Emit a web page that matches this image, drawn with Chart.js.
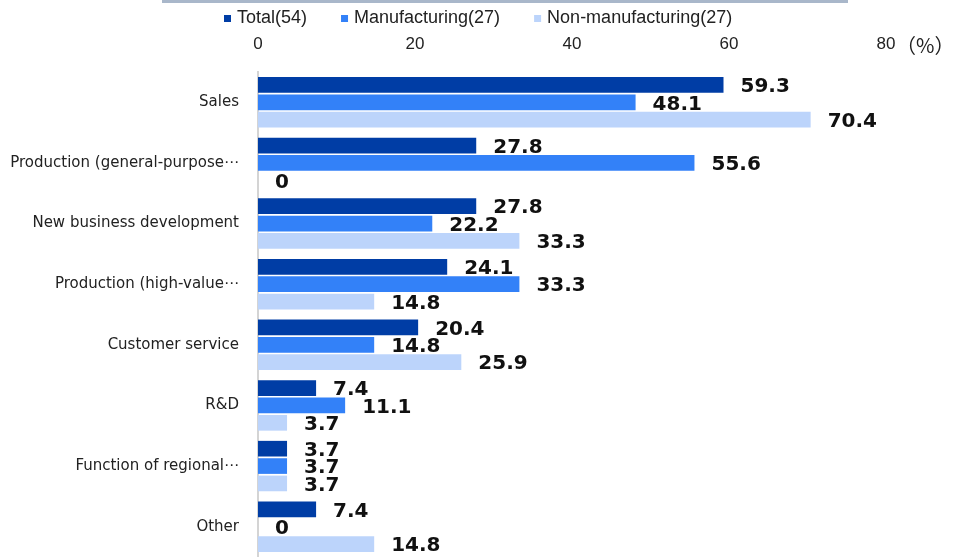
<!DOCTYPE html>
<html>
<head>
<meta charset="utf-8">
<script src="https://cdn.jsdelivr.net/npm/chart.js@4.4.1/dist/chart.umd.min.js"></script>
<style>
    html, body { margin: 0; padding: 0; background: #fff; }
    #wrap { position: relative; width: 957px; height: 557px; }
</style>
</head>
<body>
<div id="wrap"><canvas id="functionChart" width="957" height="557"></canvas></div>
<script>
// Categorías y valores (%)
const categories = [
    'Sales',
    'Production (general-purpose\u22EF',
    'New business development',
    'Production (high-value\u22EF',
    'Customer service',
    'R&D',
    'Function of regional\u22EF',
    'Other'
];
const seriesNames = ['Total(54)', 'Manufacturing(27)', 'Non-manufacturing(27)'];
const totalValues = [59.3, 27.8, 27.8, 24.1, 20.4, 7.4, 3.7, 7.4];
const manufacturingValues = [48.1, 55.6, 22.2, 33.3, 14.8, 11.1, 3.7, 0];
const nonManufacturingValues = [70.4, 0, 33.3, 14.8, 25.9, 3.7, 3.7, 14.8];
const xTicks = [0, 20, 40, 60, 80];
const unitLabel = '（%）';

const colors = ['#003DA5', '#3381F8', '#BCD4FB'];

// ===================
// Leyenda, línea superior y etiquetas de valores
// ===================
const decorPlugin = {
    id: 'decor',
    afterDraw(chart) {
        const ctx = chart.ctx;
        ctx.save();

        // línea gris de arriba
        ctx.fillStyle = '#A9B7CA';
        ctx.fillRect(162, 0, 686, 3);

        // leyenda
        ctx.font = '18px "Liberation Sans"';
        ctx.textBaseline = 'middle';
        ctx.textAlign = 'left';
        let x = 224;
        const y = 18;
        chart.data.datasets.forEach(function (ds) {
            ctx.fillStyle = ds.backgroundColor;
            ctx.fillRect(x, y - 3, 7, 7);
            ctx.fillStyle = '#222';
            ctx.fillText(ds.label, x + 13, y);
            x += 13 + ctx.measureText(ds.label).width + 34;
        });

        // unidad junto al 80
        const xScale = chart.scales.x;
        ctx.font = '20px "Noto Sans CJK JP"';
        ctx.fillStyle = '#222';
        ctx.fillText(unitLabel, xScale.getPixelForValue(80) + 10, 45);
        ctx.restore();
    },
    afterDatasetsDraw(chart) {
        const ctx = chart.ctx;
        ctx.save();
        ctx.font = 'bold 20px "DejaVu Sans"';
        ctx.fillStyle = '#111';
        ctx.textAlign = 'left';
        ctx.textBaseline = 'middle';
        chart.data.datasets.forEach(function (ds, i) {
            const meta = chart.getDatasetMeta(i);
            meta.data.forEach(function (bar, j) {
                ctx.fillText(String(ds.data[j]), bar.x + 17, bar.y + 2);
            });
        });
        ctx.restore();
    }
};

const ctx = document.getElementById('functionChart').getContext('2d');
const functionChart = new Chart(ctx, {
    type: 'bar',
    data: {
        labels: categories,
        datasets: [
            { label: seriesNames[0], data: totalValues, backgroundColor: colors[0] },
            { label: seriesNames[1], data: manufacturingValues, backgroundColor: colors[1] },
            { label: seriesNames[2], data: nonManufacturingValues, backgroundColor: colors[2] }
        ]
    },
    options: {
        indexAxis: 'y',
        responsive: false,
        animation: false,
        layout: { padding: { left: 0, right: 71, top: 0, bottom: 0 } },
        categoryPercentage: 0.86,
        barPercentage: 0.9,
        plugins: {
            legend: { display: false },
            tooltip: { enabled: false }
        },
        scales: {
            x: {
                position: 'top',
                min: 0,
                max: 80,
                afterBuildTicks: function (axis) {
                    axis.ticks = xTicks.map(function (v) { return { value: v }; });
                },
                afterFit: function (axis) { axis.height = 72; },
                grid: { display: false, drawTicks: false },
                border: { display: false },
                ticks: {
                    padding: 17,
                    color: '#222',
                    font: { family: 'Liberation Sans', size: 17 }
                }
            },
            y: {
                // ancho fijo y sin relleno vertical para que las barras lleguen abajo
                afterFit: function (axis) {
                    axis.width = 258;
                    axis.paddingTop = 0;
                    axis.paddingBottom = 0;
                },
                grid: { display: false, drawTicks: false },
                border: { display: true, color: '#D4D4D4', width: 2 },
                ticks: {
                    padding: 19,
                    autoSkip: false,
                    color: '#222',
                    font: { family: 'DejaVu Sans', size: 15 }
                }
            }
        }
    },
    plugins: [decorPlugin]
});
</script>
</body>
</html>
